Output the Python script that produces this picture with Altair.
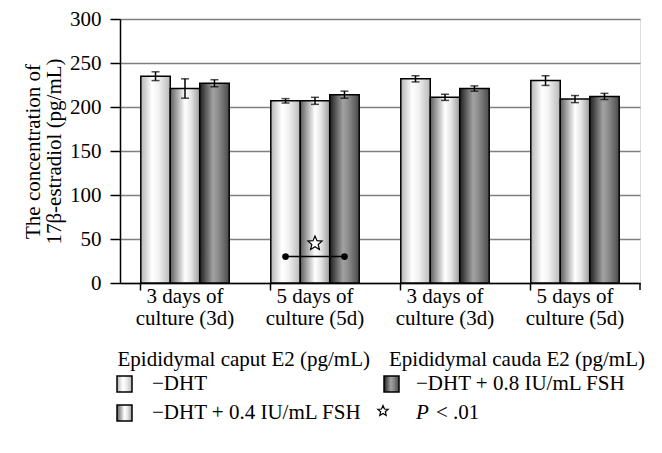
import math
import altair as alt
import pandas as pd

# ---------------- data ----------------
categories = ["caput_3d", "caput_5d", "cauda_3d", "cauda_5d"]
category_labels = ["3 days of\nculture (3d)", "5 days of\nculture (5d)",
                   "3 days of\nculture (3d)", "5 days of\nculture (5d)"]
group_labels = ["Epididymal caput E2 (pg/mL)", "Epididymal cauda E2 (pg/mL)"]
group_boundary_category = "cauda_3d"   # the two group labels meet at this band's start
series = ["\u2212DHT", "\u2212DHT + 0.4 IU/mL FSH", "\u2212DHT + 0.8 IU/mL FSH"]
means_dht = [235, 207, 232, 230]
means_fsh04 = [221, 207, 211, 209]
means_fsh08 = [227, 214, 221, 212]
err_dht = [5, 2.5, 3.5, 5.5]
err_fsh04 = [11, 4, 3.5, 4]
err_fsh08 = [4, 4, 3, 3.5]
y_ticks = [0, 50, 100, 150, 200, 250, 300]
y_title = ["The concentration of", "17\u03b2-estradiol (pg/mL)"]
sig_category = "caput_5d"
sig_pair = [series[0], series[2]]
sig_y = 30
star_series = series[1]
star_y = 45
sig_p = "P"
sig_rest = "< .01"

FONT = "Liberation Serif"
FS = 21
W, H = 520, 264

means = [means_dht, means_fsh04, means_fsh08]
errs = [err_dht, err_fsh04, err_fsh08]
rows = []
for s, m, e in zip(series, means, errs):
    for c, v, ev in zip(categories, m, e):
        rows.append({"category": c, "series": s, "value": v,
                     "lo": v - ev, "hi": v + ev})
df = pd.DataFrame(rows)

def grad(stops):
    return alt.Gradient(gradient="linear", x1=0, x2=1, y1=0, y2=0,
                        stops=[alt.GradientStop(offset=o, color=c) for o, c in stops])

gradients = [
    grad([(0, "#b4b4b4"), (0.38, "#ffffff"), (0.6, "#f2f2f2"), (1, "#b8b8b8")]),
    grad([(0, "#5e5e5e"), (0.5, "#ffffff"), (0.7, "#e6e6e6"), (1, "#9c9c9c")]),
    grad([(0, "#1e1e1e"), (0.45, "#a2a2a2"), (0.62, "#8e8e8e"), (1, "#4a4a4a")]),
]

P_IN, P_OUT = 0.32, 0.16
xscale = alt.Scale(domain=categories, paddingInner=P_IN, paddingOuter=P_OUT)
xoscale = alt.Scale(domain=series, paddingInner=0, paddingOuter=0)
yscale = alt.Scale(domain=[0, 300], nice=False)
step = W / (len(categories) - P_IN + 2 * P_OUT)
half_gap = P_IN * step / 2

xaxis = alt.Axis(labels=False, title=None, ticks=True, tickSize=7, tickColor="black",
                 tickWidth=1.5, bandPosition=0, domainColor="black", domainWidth=1.5,
                 grid=False)
yaxis = alt.Axis(values=y_ticks, title=y_title, labelFont=FONT, labelFontSize=FS,
                 labelColor="black", titleFont=FONT, titleFontSize=FS,
                 titleFontWeight="normal", titleColor="black", titlePadding=5,
                 titleLineHeight=21, labelPadding=9,
                 tickColor="black", tickSize=10, tickWidth=1.5, domainColor="black",
                 domainWidth=1.5, grid=True, gridColor="#808080", gridWidth=1.5)

def X(field="category:N", **kw):
    return alt.X(field, scale=xscale, axis=xaxis, **kw)

def Y(field, **kw):
    return alt.Y(field, scale=yscale, axis=yaxis, **kw)

layers = []
# bars
for s, g in zip(series, gradients):
    layers.append(
        alt.Chart(df).transform_filter(alt.datum.series == s)
        .mark_bar(fill=g, stroke="black", strokeWidth=1.5)
        .encode(x=X(), xOffset=alt.XOffset("series:N", scale=xoscale),
                y=Y("value:Q"))
    )
# error bars
layers.append(
    alt.Chart(df).mark_rule(color="black", strokeWidth=1.5)
    .encode(x=X(), xOffset=alt.XOffset("series:N", scale=xoscale),
            y=Y("lo:Q"), y2="hi:Q")
)
for f in ["lo", "hi"]:
    layers.append(
        alt.Chart(df).mark_tick(color="black", thickness=1.5, size=8, orient="horizontal")
        .encode(x=X(), xOffset=alt.XOffset("series:N", scale=xoscale),
                y=Y(f + ":Q"))
    )

# significance bracket
sig_df = pd.DataFrame({"category": [sig_category] * 2, "series": sig_pair,
                       "value": [sig_y] * 2})
layers.append(
    alt.Chart(sig_df).mark_line(color="black", strokeWidth=1.5)
    .encode(x=X(), xOffset=alt.XOffset("series:N", scale=xoscale), y=Y("value:Q"))
)
layers.append(
    alt.Chart(sig_df).mark_circle(color="black", size=45, opacity=1)
    .encode(x=X(), xOffset=alt.XOffset("series:N", scale=xoscale), y=Y("value:Q"))
)
pts = []
for i in range(10):
    r = 1 if i % 2 == 0 else 0.45
    a = -math.pi / 2 + i * math.pi / 5
    pts.append(f"{r * math.cos(a):.3f},{r * math.sin(a):.3f}")
star_path = "M" + " L".join(pts) + " Z"
star_df = pd.DataFrame({"category": [sig_category], "series": [star_series],
                        "value": [star_y]})
layers.append(
    alt.Chart(star_df).mark_point(shape=star_path, filled=True, fill="white",
                                  stroke="black", strokeWidth=1.2, size=220, opacity=1)
    .encode(x=X(), xOffset=alt.XOffset("series:N", scale=xoscale), y=Y("value:Q"))
)

# category labels
cat_df = pd.DataFrame({"category": categories, "label": category_labels})
layers.append(
    alt.Chart(cat_df).mark_text(lineBreak="\n", baseline="top", align="center",
                                font=FONT, fontSize=FS, lineHeight=22, color="black")
    .encode(x=X(), y=alt.value(267), text="label:N")
)
# group labels meeting either side of the middle axis tick
for lab, align, dx in [(group_labels[0], "right", -half_gap - 10),
                       (group_labels[1], "left", -half_gap + 9)]:
    gdf = pd.DataFrame({"category": [group_boundary_category], "label": [lab]})
    layers.append(
        alt.Chart(gdf).mark_text(baseline="middle", align=align, font=FONT,
                                 fontSize=FS, color="black", dx=dx)
        .encode(x=X(bandPosition=0), y=alt.value(341), text="label:N")
    )

# extra tick at right end of axis
layers.append(
    alt.Chart(cat_df.head(1)).mark_rule(color="black", strokeWidth=1.5)
    .encode(x=alt.value(W), y=alt.value(H), y2=alt.value(H + 7))
)

# legend
leg_pos = [(-3, 365, 32), (-3, 394, 32), (264, 365, 296)]  # square x, row y, text x
for s, g, (sx, ry, tx) in zip(series, gradients, leg_pos):
    one = pd.DataFrame({"label": [s]})
    layers.append(
        alt.Chart(one).mark_rect(fill=g, stroke="black", strokeWidth=1.5)
        .encode(x=alt.value(sx), x2=alt.value(sx + 15),
                y=alt.value(ry - 8), y2=alt.value(ry + 8))
    )
    layers.append(
        alt.Chart(one).mark_text(align="left", baseline="middle", font=FONT,
                                 fontSize=FS, color="black")
        .encode(x=alt.value(tx), y=alt.value(ry), text="label:N")
    )
sig_leg = pd.DataFrame({"p": [sig_p], "rest": [sig_rest]})
layers.append(
    alt.Chart(sig_leg).mark_point(shape=star_path, filled=True, fill="white",
                                  stroke="black", strokeWidth=1.2, size=120, opacity=1)
    .encode(x=alt.value(263), y=alt.value(392))
)
layers.append(
    alt.Chart(sig_leg).mark_text(align="left", baseline="middle", font=FONT,
                                 fontSize=FS, fontStyle="italic", color="black")
    .encode(x=alt.value(296), y=alt.value(394), text="p:N")
)
layers.append(
    alt.Chart(sig_leg).mark_text(align="left", baseline="middle", font=FONT,
                                 fontSize=FS, color="black")
    .encode(x=alt.value(316), y=alt.value(394), text="rest:N")
)

chart = (
    alt.layer(*layers)
    .properties(width=W, height=H, autosize=alt.AutoSizeParams(type="none"),
                padding={"left": 112, "top": 11, "right": 14, "bottom": 162})
    .configure_view(stroke="#808080", strokeWidth=2)
    .configure(background="white")
)

chart.save("out.html", embed_options={"renderer": "svg", "actions": False})
